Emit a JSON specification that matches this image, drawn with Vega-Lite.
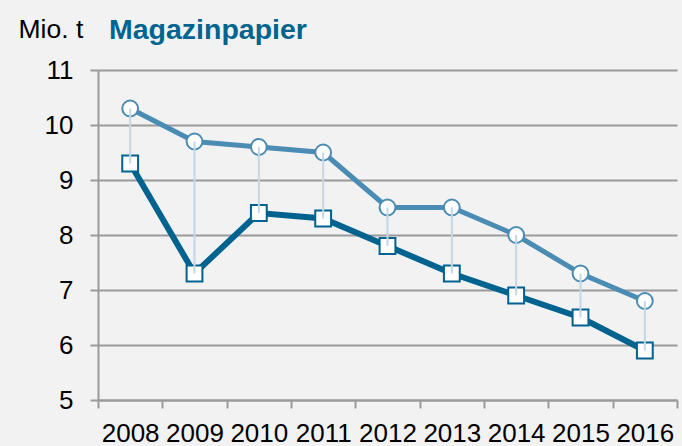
{
  "$schema": "https://vega.github.io/schema/vega-lite/v6.json",
  "width": 579,
  "height": 330,
  "autosize": "none",
  "padding": {"left": 98, "top": 70, "right": 5, "bottom": 46},
  "background": "#f2f2f2",
  "config": {"view": {"stroke": null}, "font": "Liberation Sans"},
  "title": {
    "text": "Magazinpapier",
    "anchor": "start",
    "frame": "group",
    "dx": 11,
    "offset": -51,
    "baseline": "alphabetic",
    "fontSize": 28.5,
    "fontWeight": "bold",
    "color": "#00648f",
    "font": "Liberation Sans"
  },
  "data": {
    "values": [
      {"year": "2008", "a": 10.3, "b": 9.3},
      {"year": "2009", "a": 9.7, "b": 7.3},
      {"year": "2010", "a": 9.6, "b": 8.4},
      {"year": "2011", "a": 9.5, "b": 8.3},
      {"year": "2012", "a": 8.5, "b": 7.8},
      {"year": "2013", "a": 8.5, "b": 7.3},
      {"year": "2014", "a": 8.0, "b": 6.9},
      {"year": "2015", "a": 7.3, "b": 6.5},
      {"year": "2016", "a": 6.8, "b": 5.9}
    ]
  },
  "encoding": {
    "x": {
      "field": "year",
      "type": "ordinal",
      "scale": {"type": "band", "paddingInner": 0, "paddingOuter": 0},
      "axis": {
        "title": null,
        "tickBand": "extent",
        "labelAngle": 0,
        "labelFontSize": 26,
        "labelColor": "#000000",
        "labelBaseline": "alphabetic",
        "labelPadding": 33,
        "tickSize": 8,
        "tickColor": "#9a9a9a",
        "tickWidth": 2,
        "domainColor": "#9a9a9a",
        "domainWidth": 2,
        "grid": false
      }
    }
  },
  "layer": [
    {
      "mark": {"type": "line", "color": "#4a8cb3", "strokeWidth": 5},
      "encoding": {
        "y": {
          "field": "a",
          "type": "quantitative",
          "scale": {"domain": [5, 11], "nice": false, "zero": false},
          "axis": {
            "values": [5, 6, 7, 8, 9, 10, 11],
            "format": "d",
            "title": "Mio. t",
            "titleAngle": 0,
            "titleX": -80,
            "titleY": -33,
            "titleAlign": "left",
            "titleBaseline": "alphabetic",
            "titleFontSize": 26.5,
            "titleFontWeight": "normal",
            "titleColor": "#000000",
            "titleFont": "Liberation Sans",
            "labelFontSize": 26,
            "labelColor": "#000000",
            "labelPadding": 17,
            "tickSize": 8,
            "tickColor": "#9a9a9a",
            "tickWidth": 2,
            "domainColor": "#9a9a9a",
            "domainWidth": 2,
            "grid": true,
            "gridColor": "#9a9a9a",
            "gridWidth": 2
          }
        }
      }
    },
    {
      "mark": {"type": "line", "color": "#00628f", "strokeWidth": 6},
      "encoding": {"y": {"field": "b", "type": "quantitative"}}
    },
    {
      "mark": {"type": "point", "shape": "circle", "filled": true, "fill": "#ffffff", "stroke": "#4a8cb3", "strokeWidth": 2, "size": 250, "opacity": 1},
      "encoding": {"y": {"field": "a", "type": "quantitative"}}
    },
    {
      "mark": {"type": "point", "shape": "square", "filled": true, "fill": "#ffffff", "stroke": "#00628f", "strokeWidth": 2, "size": 250, "opacity": 1},
      "encoding": {"y": {"field": "b", "type": "quantitative"}}
    },
    {
      "mark": {"type": "rule", "color": "#c3d7e6", "strokeWidth": 2},
      "encoding": {
        "y": {"field": "a", "type": "quantitative"},
        "y2": {"field": "b"}
      }
    }
  ]
}
